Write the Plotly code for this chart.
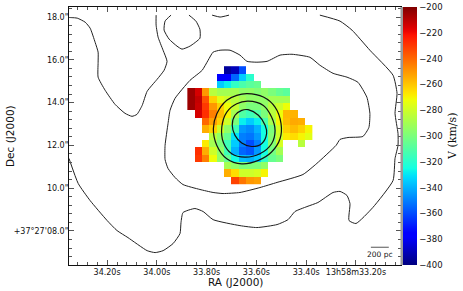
import numpy as np
import plotly.graph_objects as go

N = None
# velocity map (km/s), rows top to bottom, columns left to right (RA decreasing)
v_rows = [
 [N,N,N,N,N,-395,-390,-360,N,N,N,N,N,N,N,N,N],
 [N,N,N,N,-375,-378,-355,-335,-320,N,N,N,N,N,N,N,N],
 [N,N,N,N,-335,-328,-318,-312,-308,-305,N,N,N,N,N,N,N],
 [-205,-215,-250,-285,-290,-290,-290,-295,-295,-298,-295,-300,-305,-308,N,N,N],
 [-205,-212,-235,-262,-275,-280,-285,-290,-295,-295,-295,-290,-290,-290,N,N,N],
 [-205,-213,-230,-250,-262,-272,-282,-295,-300,-300,-295,-285,-280,-272,N,N,N],
 [N,-215,-228,-245,-258,-270,-290,-310,-315,-310,-300,-285,-272,-257,-256,N,N],
 [N,N,-240,-252,-262,-280,-300,-328,-335,-328,-312,-290,-270,-258,-254,-255,N],
 [N,N,-255,-262,-280,-295,-315,-345,-348,-340,-325,-300,-278,-262,-258,-262,-270],
 [N,N,N,-285,-295,-305,-330,-350,-352,-345,-325,-298,-280,-268,-265,-270,-275],
 [N,N,-268,-290,-300,-315,-335,-350,-360,-350,-325,-298,-278,N,N,-285,N],
 [N,-228,-255,-280,-295,-315,-340,-355,-358,-345,-325,-302,-290,N,N,N,N],
 [N,-230,-245,-272,-295,-305,-325,-338,-340,-335,-318,-305,-300,N,N,N,N],
 [N,N,N,N,N,-290,-295,-300,-300,-300,-295,N,N,N,N,N,N],
 [N,N,N,N,N,-255,-265,-280,-280,-278,-270,N,N,N,N,N,N],
 [N,N,N,N,N,N,-232,-243,-250,-252,N,N,N,N,N,N,N],
]
ra_cells = [33.8627 - 0.02944 * i for i in range(17)]
dec_cells = [15.53 - 0.3435 * i for i in range(16)]

# contours in (RA seconds, Dec arcsec)
c_a_ra = [34.353,34.320,34.288,34.268,34.248,34.236,34.236,34.236,34.208,34.168,34.128,34.100,34.080,34.059,34.039,33.999,33.971,33.959,33.975,33.995,34.003,34.003]
c_a_dec = [17.98,17.95,17.76,17.48,16.82,16.36,15.89,15.19,14.58,13.92,13.50,13.36,13.45,13.87,14.53,15.09,15.51,15.93,16.45,17.06,17.62,18.09]
c_b_ra = [33.943,33.967,33.971,33.951,33.919,33.899,33.867,33.827,33.827,33.843,33.871]
c_b_dec = [18.09,17.81,17.39,16.97,16.64,16.50,16.64,17.01,17.43,17.81,18.09]
c_c_ra = [33.778,33.746,33.710]
c_c_dec = [18.09,18.00,18.09]
c_d_ra = [33.967,33.955,33.927,33.895,33.827,33.774,33.734,33.666,33.586,33.517,33.413,33.357,33.280,33.264,33.232,33.172,33.148,33.144,33.156,33.192,33.236,33.292,33.345,33.385,33.457,33.505,33.557,33.598,33.638,33.666,33.706,33.746,33.774,33.794,33.818,33.867,33.927,33.947,33.955,33.967,33.967]
c_d_dec = [11.34,10.92,10.50,10.17,9.94,9.80,9.75,9.80,10.03,10.27,10.64,11.16,12.00,12.28,12.37,12.42,12.84,13.50,14.25,14.95,15.19,15.37,15.75,16.12,16.26,16.22,15.93,15.89,15.93,16.22,16.45,16.45,16.36,15.98,15.51,15.04,14.20,13.64,13.03,12.00,11.34]
c_e_ra = [33.345,33.264,33.216,33.144,33.051,33.035,33.043,33.031,33.031,33.043,33.051,33.132,33.200,33.228,33.224,33.236,33.264,33.292,33.353,33.397,33.445,33.473,33.517,33.598,33.666,33.774,33.814,33.847,33.895,33.903,33.907,33.935,33.975,34.007,34.039,34.116,34.160,34.200,34.268,34.316,34.353]
c_e_dec = [18.09,17.81,17.39,16.45,15.28,14.44,13.50,12.56,12.00,11.39,10.36,9.10,8.35,8.49,9.28,9.66,9.85,9.80,9.33,9.14,8.91,8.53,8.30,8.16,8.25,8.53,8.91,9.05,8.86,8.39,7.88,7.41,7.08,6.99,7.08,7.69,8.02,8.49,9.42,10.22,11.39]
r1_ra = [33.637,33.572,33.525,33.501,33.505,33.539,33.592,33.659,33.719,33.759,33.773,33.759,33.719,33.679,33.637]
r1_dec = [14.42,14.26,13.79,13.02,12.31,11.69,11.30,11.14,11.38,12.00,12.78,13.48,14.11,14.34,14.42]
r2_ra = [33.633,33.572,33.539,33.525,33.539,33.586,33.646,33.699,33.733,33.739,33.719,33.679,33.633]
r2_dec = [14.07,13.87,13.33,12.70,12.08,11.61,11.45,11.61,12.15,12.86,13.56,13.95,14.07]
r3_ra = [33.633,33.592,33.565,33.559,33.579,33.619,33.659,33.686,33.697,33.686,33.659,33.633]
r3_dec = [13.67,13.41,12.94,12.55,12.08,11.95,12.11,12.47,12.94,13.41,13.64,13.67]

x_ticks = [34.2, 34.0, 33.8, 33.6, 33.4, 33.2]
x_labels = ["34.20s", "34.00s", "33.80s", "33.60s", "33.40s", "13h58m33.20s"]
y_ticks = [18, 16, 14, 12, 10, 8]
y_labels = ['18.0"', '16.0"', '14.0"', '12.0"', '10.0"', "+37°27'08.0\""]
cb_ticks = [-200, -220, -240, -260, -280, -300, -320, -340, -360, -380, -400]
scale_ra = [33.140, 33.068]
scale_dec = [7.24, 7.24]
RA_RANGE = [34.353, 33.019]
DEC_RANGE = [6.41, 18.47]

# matplotlib-style jet
s = np.linspace(0, 1, 65)
r = np.interp(s, [0, .35, .66, .89, 1], [0, 0, 1, 1, .5])
g = np.interp(s, [0, .125, .375, .64, .91, 1], [0, 0, 1, 1, 0, 0])
b = np.interp(s, [0, .11, .34, .65, 1], [.5, 1, 1, 0, 0])
jet = [[float(t), f"rgb({int(a*255)},{int(c*255)},{int(d*255)})"] for t, a, c, d in zip(s, r, g, b)]

FONT = "DejaVu Sans"
fig = go.Figure()
fig.add_trace(go.Heatmap(
    x=ra_cells, y=dec_cells, z=v_rows, zmin=-400, zmax=-200, colorscale=jet,
    hoverongaps=False,
    colorbar=dict(x=1.006, xanchor="left", xpad=0, ypad=0, thickness=14, thicknessmode="pixels",
                  len=1, lenmode="fraction", y=0.5, yanchor="middle",
                  outlinewidth=0,
                  tickmode="array", tickvals=cb_ticks, ticks="",
                  tickfont=dict(family=FONT, size=8.5, color="#111")),
))
for xs, ys in [(c_a_ra, c_a_dec), (c_b_ra, c_b_dec), (c_c_ra, c_c_dec), (c_d_ra, c_d_dec), (c_e_ra, c_e_dec)]:
    fig.add_trace(go.Scatter(x=xs, y=ys, xaxis="x2", yaxis="y2", mode="lines", showlegend=False, hoverinfo="skip",
                             line=dict(color="#222", width=1, shape="spline", smoothing=0.5)))
for xs, ys in [(r1_ra, r1_dec), (r2_ra, r2_dec), (r3_ra, r3_dec)]:
    fig.add_trace(go.Scatter(x=xs, y=ys, xaxis="x2", yaxis="y2", mode="lines", showlegend=False, hoverinfo="skip",
                             line=dict(color="#111", width=1.2, shape="spline", smoothing=1.0)))
fig.add_trace(go.Scatter(x=scale_ra, y=scale_dec, xaxis="x2", yaxis="y2", mode="lines", showlegend=False, hoverinfo="skip",
                         line=dict(color="#555", width=1)))

axis_common = dict(showgrid=False, zeroline=False, showline=True, linecolor="#111", linewidth=1,
                   mirror="allticks", ticks="inside", ticklen=5, tickcolor="#555", tickwidth=1,
                   automargin=False, tickfont=dict(family=FONT, size=8, color="#111"))
MINOR = dict(ticks="inside", ticklen=3, tickcolor="#555", tickwidth=1)
fig.update_layout(
    xaxis=dict(range=RA_RANGE, visible=False),
    yaxis=dict(range=DEC_RANGE, visible=False),
    xaxis2=dict(range=RA_RANGE, overlaying="x", anchor="y2", side="bottom", tickmode="array",
                tickvals=x_ticks, ticktext=x_labels, ticklabelstandoff=-1,
                minor=dict(tick0=33.2, dtick=0.04, **MINOR), **axis_common),
    yaxis2=dict(range=DEC_RANGE, overlaying="y", anchor="x2", side="left", tickmode="array",
                tickvals=y_ticks, ticktext=y_labels, ticklabelstandoff=-2,
                minor=dict(tick0=8, dtick=0.4, **MINOR), **axis_common),
)
TITLE = dict(family=FONT, size=10.5, color="#111")
fig.add_annotation(xref="paper", yref="paper", x=0.5, y=0, yanchor="middle", yshift=-17, text="RA (J2000)", showarrow=False, font=TITLE)
fig.add_annotation(xref="paper", yref="paper", x=0, xanchor="center", xshift=-59, y=0.5, text="Dec (J2000)", textangle=-90, showarrow=False, font=TITLE)
fig.add_annotation(xref="x2", yref="y2", x=33.104, y=6.88, text="200 pc", showarrow=False,
                   font=dict(family=FONT, size=7.5, color="#111"))
fig.add_annotation(xref="paper", yref="paper", x=(452 - 69) / 332, xanchor="center", y=0.5, text="V (km/s)", textangle=-90,
                   showarrow=False, font=dict(family="DejaVu Serif", size=11, color="#111"))
fig.add_shape(type="line", xref="paper", yref="paper", x0=1.003, x1=1.003, y0=0, y1=1, line=dict(color="#999", width=3))
fig.update_layout(width=463, height=291, autosize=False, margin=dict(l=69, r=62, t=7, b=26, pad=0),
                  paper_bgcolor="white", plot_bgcolor="white", showlegend=False)
fig.write_html("out.html", config=dict(displayModeBar=False),
               post_script="document.body.style.margin='0';document.body.style.overflow='hidden';")
